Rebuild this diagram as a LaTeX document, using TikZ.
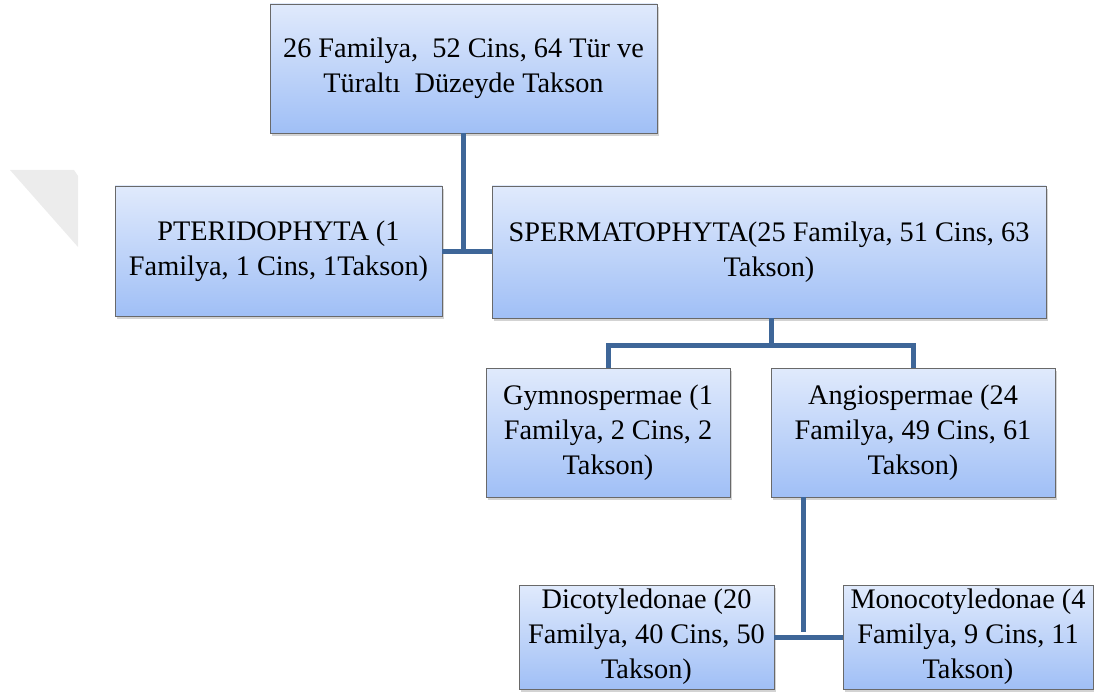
\documentclass[tikz,border=0pt]{standalone}
\usepackage{fontspec}
\setmainfont{Liberation Serif}
\usetikzlibrary{shadows}

\definecolor{boxtop}{RGB}{224,234,252}
\definecolor{boxbot}{RGB}{160,191,246}
\definecolor{boxline}{RGB}{105,105,105}
\definecolor{wire}{RGB}{62,102,152}
\definecolor{ghost}{RGB}{236,236,236}

\tikzset{
	taxon/.style={draw=boxline, top color=boxtop, bottom color=boxbot,
		align=center, inner sep=0pt,
		font=\fontsize{28.3}{35}\selectfont,
		drop shadow={shadow xshift=2pt, shadow yshift=-3pt, opacity=0.35}},
	link/.style={wire, line width=5pt}
}

\begin{document}
\begin{tikzpicture}[x=1pt,y=-1pt]
	
	\useasboundingbox (0,0) rectangle (1094,695);
	
	% faint mark at the left edge
	\fill[ghost] (10,170) -- (74,170) -- (78,176) -- (78,247) -- cycle;
	
	% The taxa
	\node[taxon, minimum width=387, minimum height=129] (root) at (463.5,68.5)
	      {26 Familya,\ \ 52 Cins, 64\ Tür ve\\Türaltı\ \ Düzeyde Takson};
	\node[taxon, minimum width=327, minimum height=130] (pter) at (278.5,251)
	      {PTERIDOPHYTA (1\\Familya, 1 Cins, 1Takson)};
	\node[taxon, minimum width=554, minimum height=132] (sperm) at (769,252)
	      {SPERMATOPHYTA(25 Familya, 51 Cins, 63\\Takson)};
	\node[taxon, minimum width=244, minimum height=129] (gymno) at (608,432.5)
	      {Gymnospermae (1\\Familya, 2 Cins, 2\\Takson)};
	\node[taxon, minimum width=284, minimum height=129] (angio) at (913,432.5)
	      {Angiospermae (24\\Familya, 49 Cins, 61\\Takson)};
	\node[taxon, minimum width=255, minimum height=104] (dicot) at (646.5,637)
	      {Dicotyledonae (20\\Familya, 40 Cins, 50\\Takson)};
	\node[taxon, minimum width=250, minimum height=104] (mono) at (968,637)
	      {Monocotyledonae (4\\Familya, 9 Cins, 11\\Takson)};
	
	% The links
	\coordinate (fork) at (771,345);
	\coordinate (tap) at (803,632);
	
	\draw[link] (root.south) -- (root.south |- pter.east);
	\draw[link] (pter.east) -- (pter.east -| sperm.west);
	\draw[link] (fork |- sperm.south) -- (fork);
	\draw[link] (gymno.north) |- (fork) -| (angio.north);
	\draw[link] (tap |- angio.south) -- (tap);
	\draw[link] (dicot.east) -- (dicot.east -| mono.west);
	
\end{tikzpicture}
\end{document}
